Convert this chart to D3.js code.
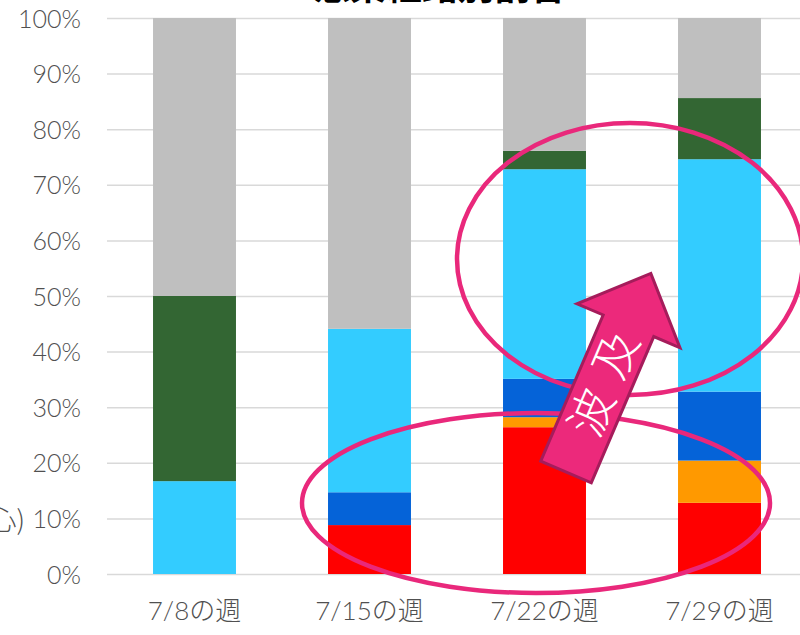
<!DOCTYPE html>
<html><head><meta charset="utf-8">
<script src="https://cdn.jsdelivr.net/npm/d3@7"></script>
<style>
html,body{margin:0;padding:0;background:#fff;overflow:hidden}
svg{display:block}
.tick text{font-family:Lato,"Noto Sans CJK JP",sans-serif;font-weight:300;fill:#505050}
</style></head><body>
<script>
// ---- data ----
const categories = ["7/8の週", "7/15の週", "7/22の週", "7/29の週"];
const seriesNames = ["区分A", "区分B", "区分C", "区分D", "区分E", "区分F"];
const seriesRed       = [0, 8.8, 26.4, 12.8];
const seriesOrange    = [0, 0, 1.8, 7.6];
const seriesBlue      = [0, 5.9, 6.9, 12.4];
const seriesLightBlue = [16.7, 29.4, 37.7, 41.8];
const seriesGreen     = [33.3, 0, 3.3, 11.0];
const seriesGray      = [50.0, 55.9, 23.9, 14.4];
const yTicks = [0, 10, 20, 30, 40, 50, 60, 70, 80, 90, 100];
const titleText = "感染経路別割合";
const arrowText = "波及";
const sideText = "心)";

const seriesValues = [seriesRed, seriesOrange, seriesBlue, seriesLightBlue, seriesGreen, seriesGray];
const colors = ["#FF0000", "#FF9900", "#0563D8", "#33CCFF", "#336633", "#BFBFBF"];

const W = 800, H = 635;
const svg = d3.select("body").append("svg").attr("width", W).attr("height", H);

const table = categories.map((c, i) => {
  const row = {cat: c};
  seriesNames.forEach((s, j) => row[s] = seriesValues[j][i]);
  return row;
});
const stacked = d3.stack().keys(seriesNames)(table);

const x = d3.scaleBand().domain(categories).range([107, 807]).paddingInner(0.526).paddingOuter(0.263);
const y = d3.scaleLinear().domain([0, 100]).range([574, 18]);

// gridlines
const grid = svg.append("g").attr("transform", "translate(107,0)")
  .call(d3.axisLeft(y).tickValues(yTicks).tickSize(-700).tickFormat(""));
grid.select(".domain").remove();
grid.selectAll(".tick line").attr("stroke", "#D9D9D9").attr("stroke-width", 1.5);

// y labels
const ya = svg.append("g").attr("transform", "translate(81,0)")
  .call(d3.axisLeft(y).tickValues(yTicks).tickSize(0).tickPadding(0).tickFormat(d => d + "%"));
ya.select(".domain").remove();
ya.selectAll(".tick text").attr("font-size", 25).attr("dy", "0.36em");

// x labels
const xa = svg.append("g").attr("transform", "translate(0,574)")
  .call(d3.axisBottom(x).tickSize(0).tickPadding(28));
xa.select(".domain").remove();
xa.selectAll(".tick text").attr("font-size", 26).attr("dy", "0.7em");

// bars
svg.append("g").selectAll("g").data(stacked).join("g")
  .attr("fill", (d, i) => colors[i])
  .selectAll("rect").data(d => d).join("rect")
  .attr("x", d => x(d.data.cat))
  .attr("width", x.bandwidth())
  .attr("y", d => y(d[1]))
  .attr("height", d => Math.max(0, y(d[0]) - y(d[1])));

// title (cut off at top, as in the reference)
svg.append("text").attr("x", 440).attr("y", 0)
  .attr("text-anchor", "middle")
  .attr("font-family", "'Noto Sans CJK JP',sans-serif").attr("font-weight", 700)
  .attr("font-size", 36).attr("fill", "#000").text(titleText);

// side text cut at left edge, as in the reference
svg.append("text").attr("x", 25).attr("y", 520).attr("dy", "0.36em")
  .attr("text-anchor", "end")
  .attr("font-family", "'Noto Sans CJK JP',sans-serif").attr("font-weight", 300)
  .attr("font-size", 27).attr("fill", "#505050").text(sideText);

// ellipses
const pink = "#E9287B";
svg.append("ellipse").attr("cx", 630).attr("cy", 259).attr("rx", 173).attr("ry", 136)
  .attr("fill", "none").attr("stroke", pink).attr("stroke-width", 4.5);
svg.append("ellipse").attr("cx", 536).attr("cy", 503).attr("rx", 234).attr("ry", 90)
  .attr("fill", "none").attr("stroke", pink).attr("stroke-width", 4.5);

// arrow
const ang = Math.atan2(273 - 472, 651 - 566) * 180 / Math.PI;
const L = 216, hw = 27.5, hh = 56, hl = 57;
const ag = svg.append("g").attr("transform", `translate(566,472) rotate(${ang})`);
ag.append("path")
  .attr("d", `M0,${-hw}L${L - hl},${-hw}L${L - hl},${-hh}L${L},0L${L - hl},${hh}L${L - hl},${hw}L0,${hw}Z`)
  .attr("fill", "#EC297B").attr("stroke", "#A51C5B").attr("stroke-width", 3).attr("stroke-linejoin", "miter");
ag.append("text").attr("x", 104).attr("y", 0).attr("dy", "0.36em")
  .attr("text-anchor", "middle")
  .attr("font-family", "'Noto Sans CJK JP',sans-serif").attr("font-weight", 300)
  .attr("font-size", 46).attr("letter-spacing", 16).attr("fill", "#fff").text(arrowText);
</script>
</body></html>
